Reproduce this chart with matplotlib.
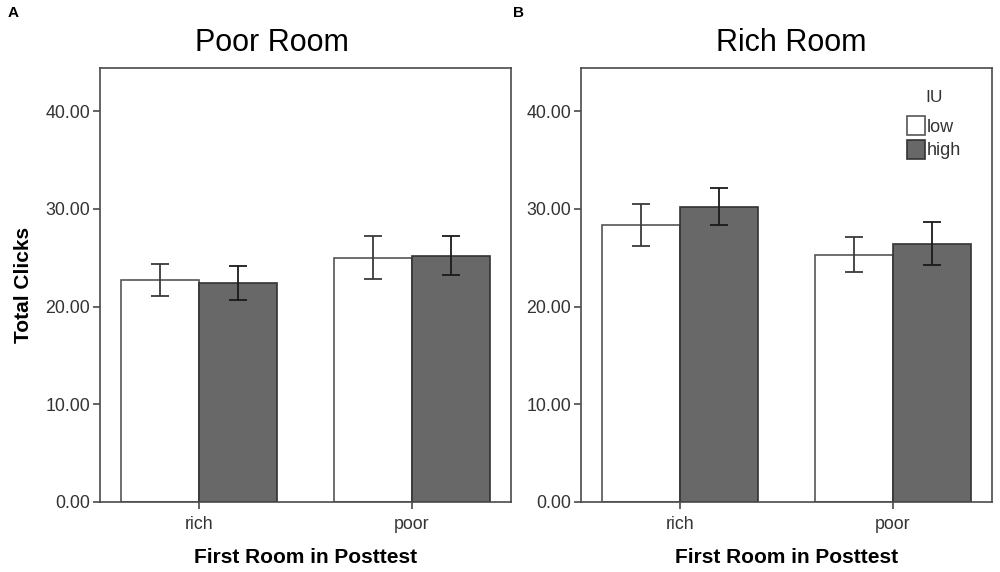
import numpy as np
import matplotlib
matplotlib.use("Agg")
import matplotlib.pyplot as plt

plt.rcParams['font.family'] = ['Liberation Sans', 'DejaVu Sans']

groups = ["rich", "poor"]
series = ["low", "high"]

# Poor Room panel (A)
poor_low = [22.7, 25.0]
poor_high = [22.4, 25.2]
poor_low_err = [[1.6, 2.2], [1.65, 2.25]]     # [lower], [upper]
poor_high_err = [[1.7, 1.95], [1.75, 2.0]]

# Rich Room panel (B)
rich_low = [28.3, 25.3]
rich_high = [30.2, 26.35]
rich_low_err = [[2.15, 1.75], [2.2, 1.8]]
rich_high_err = [[1.9, 2.15], [1.9, 2.25]]

titles = ["Poor Room", "Rich Room"]
panel_tags = ["A", "B"]

fill_colors = ["white", "#686868"]
edge_colors = ["#555555", "#333333"]
axis_gray = "#4a4a4a"

fig = plt.figure(figsize=(10, 5.72), dpi=100)
ax1 = fig.add_axes([0.100, 0.1224, 0.411, 0.7592])
ax2 = fig.add_axes([0.581, 0.1224, 0.411, 0.7592])

panels = [
    (ax1, poor_low, poor_high, poor_low_err, poor_high_err),
    (ax2, rich_low, rich_high, rich_low_err, rich_high_err),
]

x = np.arange(len(groups))
w = 0.366

for ax, lo, hi, lo_err, hi_err in panels:
    ax.bar(x - w / 2, lo, w, color=fill_colors[0], edgecolor=edge_colors[0],
           linewidth=1.2, label=series[0], zorder=2)
    ax.bar(x + w / 2, hi, w, color=fill_colors[1], edgecolor=edge_colors[1],
           linewidth=1.2, label=series[1], zorder=2)
    ax.errorbar(x - w / 2, lo, yerr=lo_err, fmt="none", ecolor="#3a3a3a",
                elinewidth=1.3, capsize=6.8, capthick=1.3, zorder=3)
    ax.errorbar(x + w / 2, hi, yerr=hi_err, fmt="none", ecolor="#1a1a1a",
                elinewidth=1.3, capsize=6.8, capthick=1.3, zorder=3)

    ax.set_xlim(-0.465, 1.465)
    ax.set_ylim(0, 44.43)
    ax.set_yticks([0, 10, 20, 30, 40])
    ax.set_yticklabels(["%.2f" % v for v in [0, 10, 20, 30, 40]])
    ax.set_xticks(x)
    ax.set_xticklabels(groups)
    for s in ax.spines.values():
        s.set_color(axis_gray)
        s.set_linewidth(1.2)
    ax.tick_params(axis="both", direction="out", length=5, width=1.2,
                   color=axis_gray, labelsize=12.8, labelcolor="#333333", pad=2)
    ax.tick_params(axis="x", pad=5)
    ax.set_xlabel("First Room in Posttest", fontsize=15, fontweight="bold",
                  labelpad=11)

ax1.set_ylabel("Total Clicks", fontsize=15, fontweight="bold", labelpad=9)

fig.text(0.272, 0.925, titles[0], fontsize=22, ha="center", va="center")
fig.text(0.791, 0.925, titles[1], fontsize=22, ha="center", va="center")
fig.text(0.008, 0.977, panel_tags[0], fontsize=11, fontweight="bold",
         ha="left", va="center")
fig.text(0.513, 0.978, panel_tags[1], fontsize=11, fontweight="bold",
         ha="left", va="center")

leg = ax2.legend(title="IU", frameon=False, loc="upper left",
                 bbox_to_anchor=(0.775, 0.965), fontsize=13, title_fontsize=12.5,
                 handlelength=1.0, handleheight=1.2, handletextpad=0.1,
                 labelspacing=0.25, borderaxespad=0)
leg._legend_box.sep = 8
for t in leg.get_texts():
    t.set_color("#333333")
leg.get_title().set_color("#333333")

fig.savefig("out.png", dpi=100)
